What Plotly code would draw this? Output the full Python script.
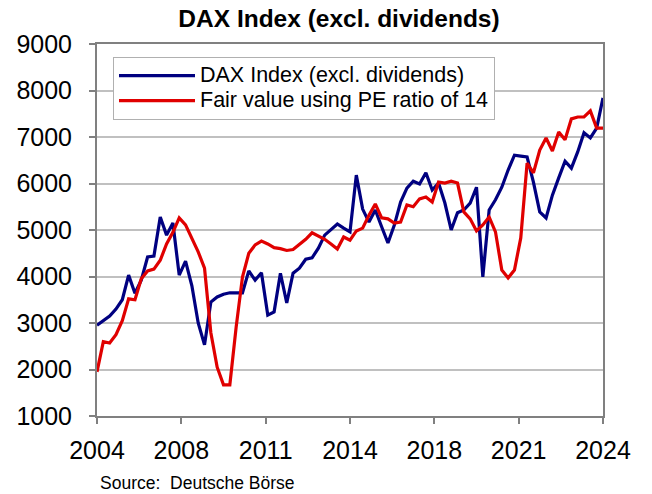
import plotly.graph_objects as go

tick_labels = ["2004", "2008", "2011", "2014", "2018", "2021", "2024"]
series_names = ["DAX Index (excl. dividends)", "Fair value using PE ratio of 14"]

dax = [2950, 3050, 3150, 3300, 3500, 4030, 3640, 3920, 4420, 4440,
       5280, 4890, 5150, 4030, 4330, 3800, 3000, 2530, 3450, 3560,
       3620, 3650, 3650, 3650, 4120, 3920, 4080, 3170, 3240, 4070,
       3430, 4070, 4180, 4370, 4400, 4610, 4890, 5000, 5130, 5040,
       4960, 6180, 5450, 5170, 5430, 5070, 4720, 5100, 5600, 5900,
       6050, 5990, 6230, 5860, 6010, 5580, 5000, 5370, 5430, 5580,
       5920, 3990, 5430, 5650, 5920, 6290, 6610, 6590, 6570, 6030,
       5390, 5260, 5750, 6120, 6480, 6330, 6680, 7090, 6980, 7190,
       7840]

fair = [1950, 2600, 2570, 2750, 3050, 3520, 3500, 3950, 4120, 4160,
        4350, 4700, 4950, 5260, 5110, 4820, 4530, 4180, 2790, 2050,
        1670, 1670, 2910, 3990, 4500, 4680, 4760, 4700, 4620, 4600,
        4560, 4580, 4680, 4800, 4940, 4870, 4800, 4700, 4590, 4850,
        4780, 4980, 5040, 5320, 5560, 5260, 5240, 5150, 5170, 5540,
        5500, 5670, 5710, 5600, 6030, 6010, 6050, 6010, 5390, 5240,
        4980, 5110, 5280, 4960, 4140, 3970, 4140, 4830, 6440, 6230,
        6720, 6980, 6700, 7110, 6940, 7390, 7430, 7430, 7560, 7190,
        7190]

start_year = 2004
end_year = 2024
x = [start_year + i * 0.25 for i in range(len(dax))]
tick_vals = [start_year + k * (end_year - start_year) / (len(tick_labels) - 1)
             for k in range(len(tick_labels))]


def legend_label(s):
    return '<span style="font-size:21.5px">' + s + '</span>'


fig = go.Figure()
fig.add_trace(go.Scatter(x=x, y=dax, mode="lines", name=legend_label(series_names[0]),
                         line=dict(color="#000080", width=3.2)))
fig.add_trace(go.Scatter(x=x, y=fair, mode="lines", name=legend_label(series_names[1]),
                         line=dict(color="#e00000", width=3.2)))

font_family = "Liberation Sans, Arial, sans-serif"

fig.update_layout(
    template="none",
    width=652, height=494,
    margin=dict(l=97, r=49, t=44, b=78, autoexpand=False),
    paper_bgcolor="white", plot_bgcolor="white",
    font=dict(family=font_family, color="black"),
    title=dict(text="<b>DAX Index (excl. dividends)</b>", x=339 / 652, xanchor="center",
               xref="container", y=1 - 18 / 494, yanchor="middle", yref="container",
               font=dict(size=24.5, family=font_family)),
    showlegend=True,
    legend=dict(x=16 / 506, y=(416 - 57) / 372, xanchor="left", yanchor="top",
                bgcolor="white", bordercolor="#b0b0b0", borderwidth=1,
                font=dict(size=17, family=font_family), tracegroupgap=0,
                itemwidth=76),
    annotations=[dict(text="Source:  Deutsche Börse", xref="paper", yref="paper",
                      x=1 / 506, y=-(483 - 416) / 372, xanchor="left", yanchor="middle",
                      showarrow=False,
                      font=dict(size=17.5, family=font_family))],
)

fig.update_xaxes(range=[start_year, end_year], tickvals=tick_vals, ticktext=tick_labels,
                 showline=True, linecolor="#808080", linewidth=2, mirror=True,
                 ticks="outside", ticklen=6, tickcolor="#808080", tickwidth=2,
                 showgrid=False, zeroline=False, tickfont=dict(size=25),
                 ticklabelstandoff=5, automargin=False)
fig.update_yaxes(range=[1000, 9000], dtick=1000, tick0=1000,
                 showline=True, linecolor="#808080", linewidth=2, mirror=True,
                 ticks="outside", ticklen=6, tickcolor="#808080", tickwidth=2,
                 showgrid=True, gridcolor="#c0c0c0", gridwidth=1.5, zeroline=False,
                 tickfont=dict(size=25), ticklabelstandoff=12, automargin=False)

fig.write_html("out.html", config={"displayModeBar": False},
               post_script="document.body.style.margin='0px';document.body.style.overflow='hidden';")
